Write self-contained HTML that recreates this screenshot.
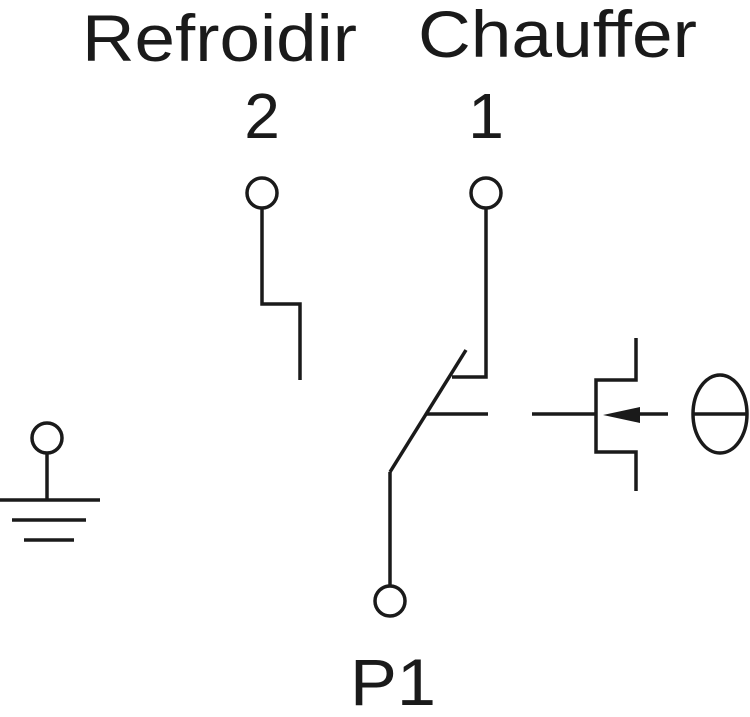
<!DOCTYPE html>
<html><head><style>html,body{margin:0;padding:0;background:#fff}svg{display:block}</style></head>
<body>
<svg width="750" height="717" viewBox="0 0 750 717" xmlns="http://www.w3.org/2000/svg">
<g font-family="Liberation Sans, sans-serif" fill="#1a1a1a">
<text x="82" y="61" font-size="66" textLength="275" lengthAdjust="spacingAndGlyphs">Refroidir</text>
<text x="418" y="57" font-size="66" textLength="279" lengthAdjust="spacingAndGlyphs">Chauffer</text>
<text x="262" y="138" font-size="64" text-anchor="middle">2</text>
<text x="486" y="138" font-size="64" text-anchor="middle">1</text>
<text x="350" y="705" font-size="66" textLength="86" lengthAdjust="spacingAndGlyphs">P1</text>
</g>
<g stroke="#1a1a1a" stroke-width="3.5" fill="none">
<circle cx="262" cy="193" r="15"/>
<circle cx="486" cy="193" r="15"/>
<circle cx="47" cy="438" r="15"/>
<circle cx="390" cy="601" r="15"/>
<polyline points="262,208 262,304 300,304 300,380"/>
<polyline points="486,208 486,377 452,377"/>
<line x1="390" y1="586" x2="390" y2="472"/>
<line x1="390" y1="472" x2="466" y2="350"/>
<line x1="427" y1="414" x2="488" y2="414"/>
<line x1="47" y1="453" x2="47" y2="500"/>
<line x1="0" y1="500" x2="100" y2="500"/>
<line x1="12" y1="520" x2="86" y2="520"/>
<line x1="24" y1="540" x2="74" y2="540"/>
<line x1="532" y1="414" x2="596" y2="414"/>
<polyline points="636,338 636,380 596,380 596,452 636,452 636,491"/>
<line x1="636" y1="414" x2="668" y2="414"/>
<ellipse cx="720" cy="414" rx="27" ry="39"/>
<line x1="693" y1="414" x2="747" y2="414"/>
</g>
<polygon points="603,415 640,407 640,423" fill="#1a1a1a"/>
</svg>
</body></html>
